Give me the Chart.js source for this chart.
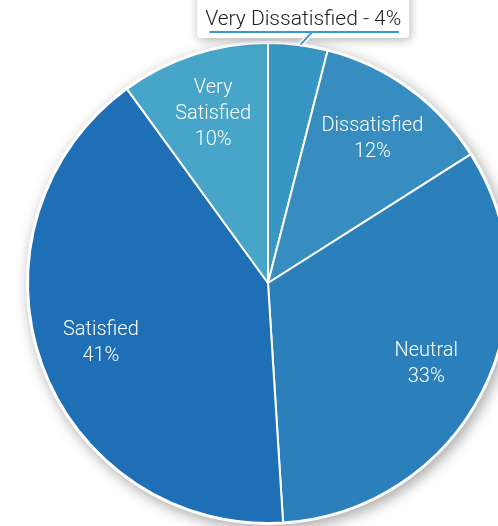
<!DOCTYPE html>
<html>
<head>
<meta charset="utf-8">
<script src="https://cdn.jsdelivr.net/npm/chart.js@4.4.1/dist/chart.umd.min.js"></script>
<style>
  html, body { margin: 0; padding: 0; background: #fff; overflow: hidden; }
  #wrap { position: absolute; left: 0; top: 0; width: 560px; height: 560px; }
</style>
</head>
<body>
<div id="wrap"><canvas id="pie"></canvas></div>
<script>
// survey answers, clockwise from 12 o'clock
const labels = ['Very Dissatisfied', 'Dissatisfied', 'Neutral', 'Satisfied', 'Very Satisfied'];
const values = [4, 12, 33, 41, 10];
const colors = ['#3796c4', '#378cc0', '#2b80bc', '#1f6fb6', '#46a5c9'];
// slices too thin for an inside label get a callout above the pie
const calloutSlices = ['Very Dissatisfied'];
// how the inside labels are split over lines
const insideLines = {
    'Dissatisfied': ['Dissatisfied'],
    'Neutral': ['Neutral'],
    'Satisfied': ['Satisfied'],
    'Very Satisfied': ['Very', 'Satisfied']
};

const FONT = '300 20px Roboto, "Liberation Sans", sans-serif';

// soft drop shadow behind the whole pie
const pieShadow = {
    id: 'pieShadow',
    beforeDatasetsDraw(chart) {
        const arc = chart.getDatasetMeta(0).data[0];
        if (!arc) return;
        const { x, y, outerRadius } = arc.getProps(['x', 'y', 'outerRadius'], true);
        const ctx = chart.ctx;
        ctx.save();
        ctx.shadowColor = 'rgba(0, 0, 0, 0.35)';
        ctx.shadowBlur = 14;
        ctx.shadowOffsetX = 3;
        ctx.shadowOffsetY = 4;
        ctx.fillStyle = '#fff';
        ctx.beginPath();
        ctx.arc(x, y, outerRadius + 2, 0, Math.PI * 2);
        ctx.fill();
        ctx.restore();
    }
};

// labels inside the slices + callout for the small one
const sliceLabels = {
    id: 'sliceLabels',
    afterDatasetsDraw(chart) {
        const ctx = chart.ctx;
        const meta = chart.getDatasetMeta(0);
        meta.data.forEach((arc, i) => {
            const p = arc.getProps(['x', 'y', 'startAngle', 'endAngle', 'outerRadius'], true);
            const mid = (p.startAngle + p.endAngle) / 2;
            const name = labels[i];
            const pct = values[i] + '%';

            if (calloutSlices.includes(name)) {
                const ax = p.x + Math.cos(mid) * (p.outerRadius + 1);
                const ay = p.y + Math.sin(mid) * (p.outerRadius + 1);
                const text = name + ' - ' + pct;
                ctx.save();
                ctx.font = '300 21px Roboto, "Liberation Sans", sans-serif';
                const w = ctx.measureText(text).width;
                const cx = ax + 5;
                const lineY = ay - 12;
                // white box with shadow
                ctx.save();
                ctx.shadowColor = 'rgba(0, 0, 0, 0.3)';
                ctx.shadowBlur = 10;
                ctx.shadowOffsetX = 1;
                ctx.shadowOffsetY = 2;
                ctx.fillStyle = '#fff';
                ctx.beginPath();
                ctx.roundRect(cx - w / 2 - 8, lineY - 50, w + 16, 56, 4);
                ctx.fill();
                ctx.restore();
                // leader line, white halo then blue
                ctx.lineCap = 'round';
                ctx.strokeStyle = '#fff';
                ctx.lineWidth = 5;
                ctx.beginPath();
                ctx.moveTo(ax + 3, ay);
                ctx.lineTo(ax + 14, lineY);
                ctx.stroke();
                ctx.strokeStyle = '#3a98cc';
                ctx.lineWidth = 2;
                ctx.stroke();
                // underline
                ctx.beginPath();
                ctx.moveTo(cx - w / 2 + 5, lineY);
                ctx.lineTo(cx + w / 2 - 3, lineY);
                ctx.stroke();
                // text
                ctx.fillStyle = '#1e1e1e';
                ctx.textAlign = 'center';
                ctx.textBaseline = 'alphabetic';
                ctx.fillText(text, cx, lineY - 7);
                ctx.restore();
                return;
            }

            const r = p.outerRadius * 0.74;
            const lx = p.x + Math.cos(mid) * r;
            const ly = p.y + Math.sin(mid) * r;
            const lines = insideLines[name].concat([pct]);
            const lh = 26;
            ctx.save();
            ctx.font = FONT;
            ctx.fillStyle = '#ffffff';
            ctx.textAlign = 'center';
            ctx.textBaseline = 'middle';
            lines.forEach((t, k) => {
                ctx.fillText(t, lx, ly + (k - (lines.length - 1) / 2) * lh);
            });
            ctx.restore();
        });
    }
};

new Chart(document.getElementById('pie'), {
    type: 'pie',
    data: {
        labels: labels,
        datasets: [{
            data: values,
            backgroundColor: colors,
            borderColor: '#ffffff',
            borderWidth: 2
        }]
    },
    options: {
        responsive: true,
        maintainAspectRatio: false,
        animation: false,
        layout: { padding: { left: 27, top: 42, right: 51, bottom: 36 } },
        plugins: {
            legend: { display: false },
            tooltip: { enabled: false }
        }
    },
    plugins: [pieShadow, sliceLabels]
});
</script>
</body>
</html>
